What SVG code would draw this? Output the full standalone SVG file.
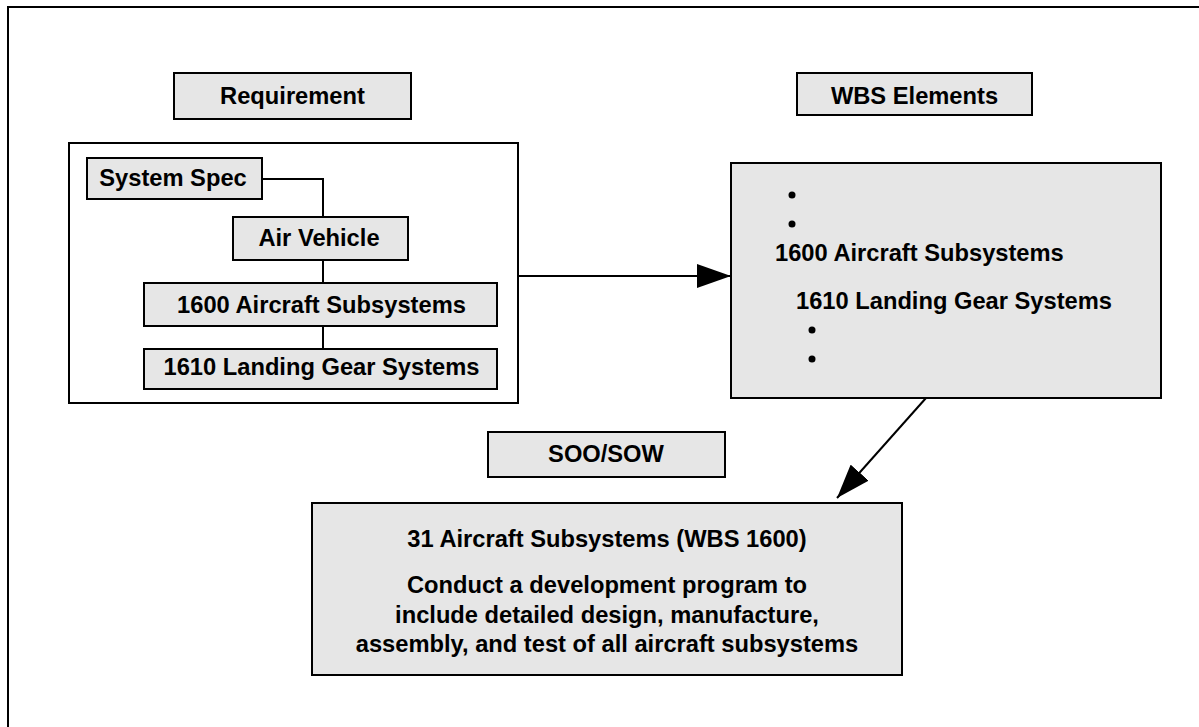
<svg xmlns="http://www.w3.org/2000/svg" width="1199" height="727" viewBox="0 0 1199 727">
<style>
.box{fill:#e6e6e6;stroke:#000;stroke-width:2}
.wbox{fill:#fff;stroke:#000;stroke-width:2}
.t{font-family:"Liberation Sans",Arial,sans-serif;font-weight:bold;font-size:23.7px;fill:#000}
.c{text-anchor:middle}
.ln{fill:none;stroke:#000;stroke-width:2}
</style>
<defs>
<marker id="ah" markerUnits="userSpaceOnUse" markerWidth="34" markerHeight="24" refX="34" refY="12" orient="auto">
<path d="M0,0 L34,12 L0,24 z" fill="#000"/>
</marker>
</defs>
<rect x="8" y="7" width="1300" height="800" fill="#fff" stroke="#000" stroke-width="2"/>
<g id="requirement-label">
<rect class="box" x="174" y="73" width="237" height="46"/>
<text class="t c" x="292.5" y="104">Requirement</text>
</g>
<g id="wbs-label">
<rect class="box" x="797" y="73" width="235" height="42"/>
<text class="t c" x="914.5" y="104">WBS Elements</text>
</g>
<g id="requirement-panel">
<rect class="wbox" x="69" y="143" width="449" height="260"/>
</g>
<g id="system-spec">
<rect class="box" x="87" y="158" width="175" height="41"/>
<text class="t c" x="173" y="186">System Spec</text>
</g>
<g id="air-vehicle">
<rect class="box" x="233" y="217" width="175" height="43"/>
<text class="t c" x="319" y="246">Air Vehicle</text>
</g>
<g id="req-1600">
<rect class="box" x="144" y="283" width="353" height="43"/>
<text class="t c" x="321.5" y="313">1600 Aircraft Subsystems</text>
</g>
<g id="req-1610">
<rect class="box" x="144" y="349" width="353" height="40"/>
<text class="t c" x="321.5" y="375">1610 Landing Gear Systems</text>
</g>
<g id="wbs-elements">
<rect class="box" x="731" y="163" width="430" height="235"/>
<circle cx="792" cy="195" r="3.5"/>
<circle cx="792" cy="224" r="3.5"/>
<text class="t" x="775" y="261">1600 Aircraft Subsystems</text>
<text class="t" x="796" y="309">1610 Landing Gear Systems</text>
<circle cx="812" cy="330" r="3.5"/>
<circle cx="812" cy="359" r="3.5"/>
</g>
<g id="soo-label">
<rect class="box" x="488" y="432" width="237" height="45"/>
<text class="t c" x="606" y="462">SOO/SOW</text>
</g>
<g id="soo-sow">
<rect class="box" x="312" y="503" width="590" height="172"/>
<text class="t c" x="607" y="547">31 Aircraft Subsystems (WBS 1600)</text>
<text class="t c" x="607" y="593">Conduct a development program to</text>
<text class="t c" x="607" y="623">include detailed design, manufacture,</text>
<text class="t c" x="607" y="652">assembly, and test of all aircraft subsystems</text>
</g>
<g id="connectors">
<polyline class="ln" points="262,179 323,179 323,217"/>
<line class="ln" x1="323" y1="260" x2="323" y2="283"/>
<line class="ln" x1="323" y1="326" x2="323" y2="349"/>
<line class="ln" x1="518" y1="276" x2="731" y2="276" marker-end="url(#ah)"/>
<line class="ln" x1="926" y1="398" x2="837" y2="498" marker-end="url(#ah)"/>
</g>
</svg>
